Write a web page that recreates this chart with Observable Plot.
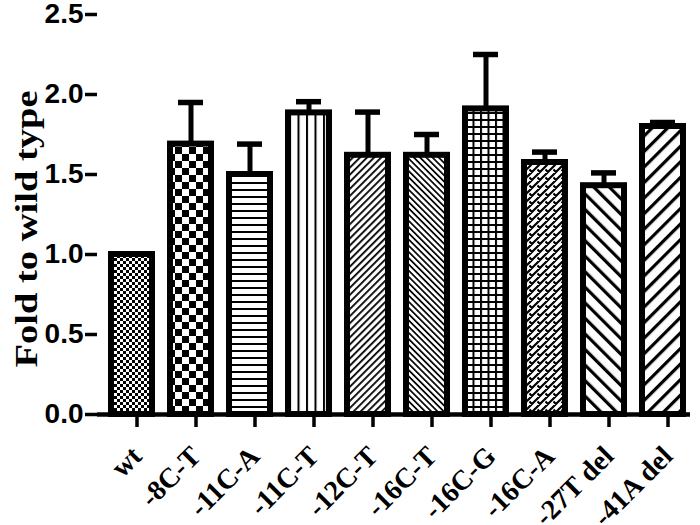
<!DOCTYPE html>
<html><head><meta charset="utf-8">
<script src="https://cdn.jsdelivr.net/npm/d3@7"></script>
<script src="https://cdn.jsdelivr.net/npm/@observablehq/plot@0.6"></script>
<style>body{margin:0;background:#fff}</style>
</head><body><div id="chart"></div>
<script>
const categories = ["wt","-8C-T","-11C-A","-11C-T","-12C-T","-16C-T","-16C-G","-16C-A","-27T del","-41A del"];
const means = [1.00,1.69,1.50,1.885,1.62,1.62,1.91,1.575,1.43,1.80];
const errors = [0.00,0.26,0.19,0.07,0.27,0.13,0.34,0.065,0.08,0.025];
const yTicks = [0,0.5,1,1.5,2,2.5];
const patternIds = ["pWt","p8C","p11CA","p11CT","p12CT","p16CT","p16CG","p16CA","p27T","p41A"];
const yTitle = "Fold to wild type";

const data = categories.map((c,i)=>({cat:c, mean:means[i], err:errors[i], top:means[i]+errors[i]}));
const errData = data.filter(d=>d.err>0);

const chart = Plot.plot({
  width:700, height:525,
  marginLeft:97, marginRight:3, marginTop:14, marginBottom:111,
  x:{domain:categories, paddingInner:0.3, paddingOuter:0.2, label:null},
  y:{domain:[0,2.5], label:null},
  color:{domain:categories, range:patternIds.map(id=>`url(#${id})`)},
  marks:[
    Plot.barY(data,{x:"cat", y:"mean", fill:"cat", stroke:"black", strokeWidth:6}),
    Plot.ruleX(errData,{x:"cat", y1:"mean", y2:"top", stroke:"black", strokeWidth:5}),
    Plot.tickY(errData,{x:"cat", y:"top", stroke:"black", strokeWidth:5.5, insetLeft:8, insetRight:8}),
    Plot.ruleY([0],{stroke:"black", strokeWidth:4.5, insetRight:7}),
    Plot.axisY({ticks:yTicks, tickFormat:d3.format(".1f"), tickSize:12, tickPadding:2, strokeWidth:3.5,
      fontSize:28, fontWeight:"bold", fontFamily:"Liberation Sans, Arial, sans-serif", line:true, label:null}),
    Plot.axisX({tickSize:13, tickPadding:24, tickRotate:-45, strokeWidth:3.5, fontSize:28, fontWeight:"bold",
      fontFamily:"Liberation Serif, Times New Roman, serif", dx:5, label:null}),
    Plot.text([yTitle],{text:d=>d, frameAnchor:"left", rotate:-90, dx:-61, dy:153, textAnchor:"start", lineAnchor:"bottom",
      fontSize:31, fontWeight:"bold", fontFamily:"Liberation Serif, Times New Roman, serif", fill:"black"})
  ]
});

const svg = d3.select(chart);
svg.insert("defs",":first-child").html(`
<pattern id="pWt" patternUnits="userSpaceOnUse" width="6" height="6"><rect width="6" height="6" fill="#fff"/><rect width="3" height="3" fill="#000"/><rect x="3" y="3" width="3" height="3" fill="#000"/></pattern>
<pattern id="p8C" patternUnits="userSpaceOnUse" width="14" height="14"><rect width="14" height="14" fill="#fff"/><rect width="7" height="7" fill="#000"/><rect x="7" y="7" width="7" height="7" fill="#000"/></pattern>
<pattern id="p11CA" patternUnits="userSpaceOnUse" width="8" height="7"><rect width="8" height="7" fill="#fff"/><rect width="8" height="2" fill="#000"/></pattern>
<pattern id="p11CT" patternUnits="userSpaceOnUse" width="8.5" height="8"><rect width="8.5" height="8" fill="#fff"/><rect width="2" height="8" fill="#000"/></pattern>
<pattern id="p12CT" patternUnits="userSpaceOnUse" width="5" height="5" patternTransform="rotate(45)"><rect width="5" height="5" fill="#fff"/><rect width="1.8" height="5" fill="#000"/></pattern>
<pattern id="p16CT" patternUnits="userSpaceOnUse" width="4.4" height="4.4" patternTransform="rotate(-45)"><rect width="4.4" height="4.4" fill="#fff"/><rect width="1.7" height="4.4" fill="#000"/></pattern>
<pattern id="p16CG" patternUnits="userSpaceOnUse" width="7.5" height="7"><rect width="7.5" height="7" fill="#fff"/><rect width="7.5" height="2" fill="#000"/><rect width="2" height="7" fill="#000"/></pattern>
<pattern id="p16CA" patternUnits="userSpaceOnUse" width="8" height="8"><rect width="8" height="8" fill="#fff"/><path d="M-1,9L9,-1M-1,1L1,-1M7,9L9,7M1.5,1.5L4.5,4.5" stroke="#000" stroke-width="2.2"/></pattern>
<pattern id="p27T" patternUnits="userSpaceOnUse" width="11" height="11" patternTransform="rotate(-45)"><rect width="11" height="11" fill="#fff"/><rect width="3.2" height="11" fill="#000"/></pattern>
<pattern id="p41A" patternUnits="userSpaceOnUse" width="11" height="11" patternTransform="rotate(45)"><rect width="11" height="11" fill="#fff"/><rect width="3.2" height="11" fill="#000"/></pattern>
`);
svg.selectAll('g[aria-label="text"] text').attr("textLength",277).attr("lengthAdjust","spacingAndGlyphs");
document.getElementById("chart").appendChild(chart);
</script>
</body></html>
